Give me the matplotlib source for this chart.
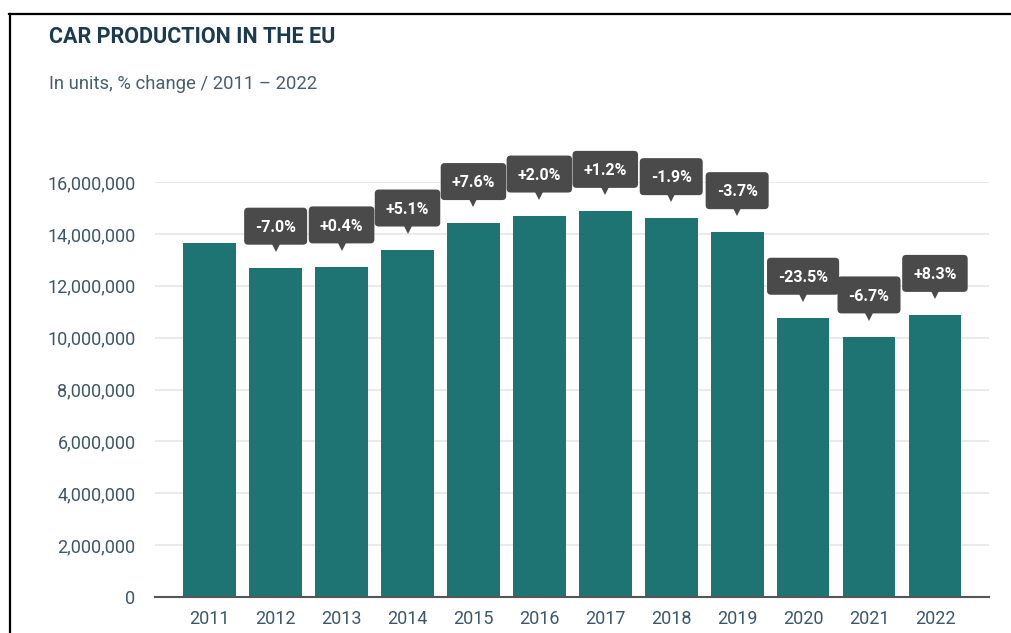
import matplotlib.pyplot as plt
from matplotlib.lines import Line2D
from matplotlib.patches import FancyBboxPatch
from matplotlib.ticker import FuncFormatter
import matplotlib.transforms as mtransforms

# data
years = ['2011', '2012', '2013', '2014', '2015', '2016', '2017', '2018', '2019', '2020', '2021', '2022']
units = [13640000, 12690000, 12740000, 13390000, 14410000, 14700000,
         14880000, 14600000, 14060000, 10760000, 10040000, 10870000]
changes = ['', '-7.0%', '+0.4%', '+5.1%', '+7.6%', '+2.0%', '+1.2%', '-1.9%', '-3.7%', '-23.5%', '-6.7%', '+8.3%']

plt.rcParams['font.family'] = ['Roboto', 'DejaVu Sans']

W, H = 1011, 633
fig = plt.figure(figsize=(W / 100, H / 100), dpi=100)
fig.patch.set_facecolor('white')

# axes placed by pixel box
left, right, top, bottom = 155, 989, 182, 597
ax = fig.add_axes([left / W, 1 - bottom / H, (right - left) / W, (bottom - top) / H])

x = list(range(len(years)))
ax.bar(x, units, width=0.8, color='#1e7473', zorder=2)

ax.set_xlim(-0.83, 11.82)
ax.set_ylim(0, 16000000)
ax.set_yticks(range(0, 16000001, 2000000))
ax.yaxis.set_major_formatter(FuncFormatter(lambda v, p: '{:,.0f}'.format(v)))
ax.set_xticks(x)
ax.set_xticklabels(years)

tick_color = '#3e5768'
ax.tick_params(axis='both', length=0, labelsize=13, colors=tick_color)
ax.tick_params(axis='y', pad=14)
ax.tick_params(axis='x', pad=9)

ax.grid(axis='y', color='#e6e6e6', linewidth=1.2, zorder=0)
ax.set_axisbelow(True)
for s in ['top', 'right', 'left']:
    ax.spines[s].set_visible(False)
ax.spines['bottom'].set_color('#555555')
ax.spines['bottom'].set_linewidth(1.5)
ax.spines['bottom'].set_zorder(3)

fig.text(49 / W, 1 - 37 / H, 'CAR PRODUCTION IN THE EU', fontsize=15.5, fontweight='bold',
         color='#1d3b4f', va='center', ha='left')
fig.text(49 / W, 1 - 84 / H, 'In units, % change / 2011 \u2013 2022', fontsize=13.3,
         color='#4a5f6e', va='center', ha='left')

# change labels: dark box with a small pointer underneath
box_color = '#4a4a4a'
box_off = 30  # points above bar top
labels = []
for i, (u, c) in enumerate(zip(units, changes)):
    if not c:
        continue
    t = ax.annotate(c, xy=(i, u), xytext=(0, box_off - 4.1), textcoords='offset points',
                    ha='center', va='baseline', fontsize=11.5, fontweight='bold', color='white',
                    annotation_clip=False, zorder=7)
    labels.append((i, u, t))
    tr = mtransforms.offset_copy(ax.transData, fig=fig, x=0, y=15, units='points')
    ax.plot([i], [u], marker='v', markersize=7, color=box_color, transform=tr,
            clip_on=False, zorder=5, markeredgewidth=0)

fig.canvas.draw()
renderer = fig.canvas.get_renderer()
for i, u, t in labels:
    bb = t.get_window_extent(renderer)
    px, py = ax.transData.transform((i, u))
    cy = py + box_off * fig.dpi / 72
    w = bb.width + 22
    h = 37
    patch = FancyBboxPatch((px - w / 2, cy - h / 2), w, h,
                           boxstyle='round,pad=0,rounding_size=4',
                           fc=box_color, ec='none', zorder=5, clip_on=False,
                           transform=mtransforms.IdentityTransform())
    ax.add_artist(patch)

# frame lines top and left
fig.add_artist(Line2D([9 / W, 1], [1 - 14 / H, 1 - 14 / H], color='black', linewidth=1.6))
fig.add_artist(Line2D([10 / W, 10 / W], [0, 1 - 14 / H], color='black', linewidth=1.6))

fig.savefig('out.png', dpi=100)
